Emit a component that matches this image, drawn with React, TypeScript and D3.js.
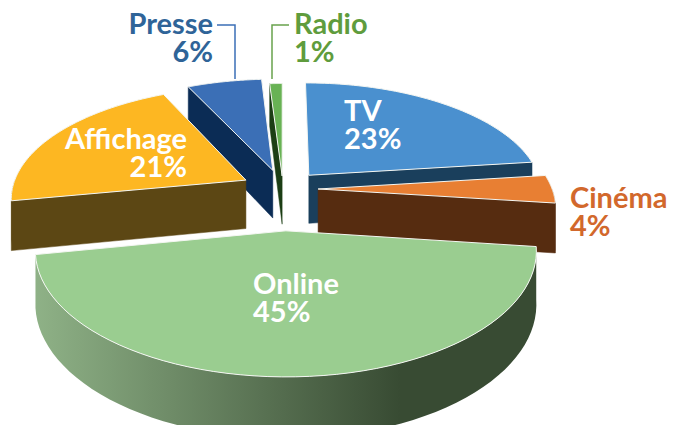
import React from "react";
import * as d3 from "d3";

const categories = ["TV", "Cinéma", "Online", "Affichage", "Presse", "Radio"];
const shares = [23, 4, 45, 21, 6, 1];
const topColors = ["#4a90cf", "#e87f33", "#9acd90", "#fdb722", "#3b6fb6", "#68b254"];
const wallColors = ["#1a3f5c", "#562c10", "#3d5236", "#5c4714", "#0b2c55", "#1c3e15"];
const labelColors = ["#ffffff", "#d2682c", "#ffffff", "#ffffff", "#2f6498", "#5f9c3d"];
const explode = [0.17, 0.15, 0.36, 0.18, 0.18, 0.12];

const X0 = 283, Y0 = 189, RX = 234, RY = 110, PERSP = 0.15, DEPTH = 49;

type P = [number, number];
function project(u: number, v: number, h: number): P {
  const w = 1 / (1 - PERSP * v);
  return [X0 + RX * u * w, Y0 + RY * v * w + h * DEPTH * w];
}

const arcs = d3.pie<number>().sort(null)(shares);

function slicePoints(i: number) {
  const a = arcs[i];
  const mid = (a.startAngle + a.endAngle) / 2;
  const ox = Math.sin(mid) * explode[i], oy = -Math.cos(mid) * explode[i];
  const at = (ang: number, h: number, r = 1): P =>
    project(ox + r * Math.sin(ang), oy - r * Math.cos(ang), h);
  return { a, at };
}

const line = d3.line<P>();
const sweep = (s: number, e: number, n = 60) => d3.range(n + 1).map((k) => s + ((e - s) * k) / n);

function topPath(i: number) {
  const { a, at } = slicePoints(i);
  return line([at(0, 0, 0), ...sweep(a.startAngle, a.endAngle).map((t) => at(t, 0))]) + "Z";
}
function edgeWall(i: number, ang: number) {
  const { at } = slicePoints(i);
  return line([at(0, 0, 0), at(ang, 0), at(ang, 1), at(0, 1, 0)]) + "Z";
}
function rim(i: number, s: number, e: number) {
  const { at } = slicePoints(i);
  const ts = sweep(s, e);
  return line([...ts.map((t) => at(t, 0)), ...ts.slice().reverse().map((t) => at(t, 1))]) + "Z";
}

const right = Math.PI / 2;
const order = [0, 5, 4, 3, 1, 2];
const edgeAngle = (i: number) => (i < 2 ? arcs[i].endAngle : arcs[i].startAngle);

const font = "Lato, 'Noto Sans', sans-serif";
function Label({ x, y, name, pct, i, anchor, size = 29 }: any) {
  return (
    <text fontFamily={font} fontWeight={700} fontSize={size} fill={labelColors[i]} textAnchor={anchor}>
      <tspan x={x} y={y}>{name}</tspan>
      <tspan x={x} y={y + 28}>{pct}%</tspan>
    </text>
  );
}

export default function App() {
  const pos: Record<string, any> = {
    TV: { x: 344, y: 121, anchor: "start" },
    "Cinéma": { x: 570, y: 208, anchor: "start" },
    Online: { x: 253, y: 294, anchor: "start" },
    Affichage: { x: 187, y: 149, anchor: "end" },
    Presse: { x: 213, y: 34, anchor: "end" },
    Radio: { x: 294, y: 34, anchor: "start" },
  };
  return (
    <svg width={677} height={425} style={{ position: "fixed", left: 0, top: 0, background: "#fff" }}>
      <defs>
        <linearGradient id="onlineRim" gradientUnits="userSpaceOnUse" x1={34} x2={400} y1={0} y2={0}>
          <stop offset="0" stopColor="#8fb287" />
          <stop offset="1" stopColor="#384b33" />
        </linearGradient>
      </defs>
      {order.map((i) => {
        const a = arcs[i];
        return (
          <g key={categories[i]}>
            {i === 2 ? (
              <path d={rim(2, a.startAngle, a.endAngle)} fill="url(#onlineRim)" />
            ) : (
              <>
                <path d={edgeWall(i, edgeAngle(i))} fill={wallColors[i]} stroke={wallColors[i]} strokeWidth={0.5} />
                {i === 1 && <path d={rim(1, right, a.endAngle)} fill={wallColors[i]} />}
                {i === 3 && <path d={rim(3, a.startAngle, 1.5 * Math.PI)} fill={wallColors[i]} />}
              </>
            )}
            <path d={topPath(i)} fill={topColors[i]} stroke="#f4f6f2" strokeWidth={1} />
          </g>
        );
      })}
      <path d="M217 25H235V79" fill="none" stroke="#3b6fb6" strokeWidth={1.5} />
      <path d="M289 25H272V79" fill="none" stroke="#68a24c" strokeWidth={1.5} />
      {categories.map((c, i) => (
        <Label key={c} name={c} pct={shares[i]} i={i} {...pos[c]} />
      ))}
    </svg>
  );
}
